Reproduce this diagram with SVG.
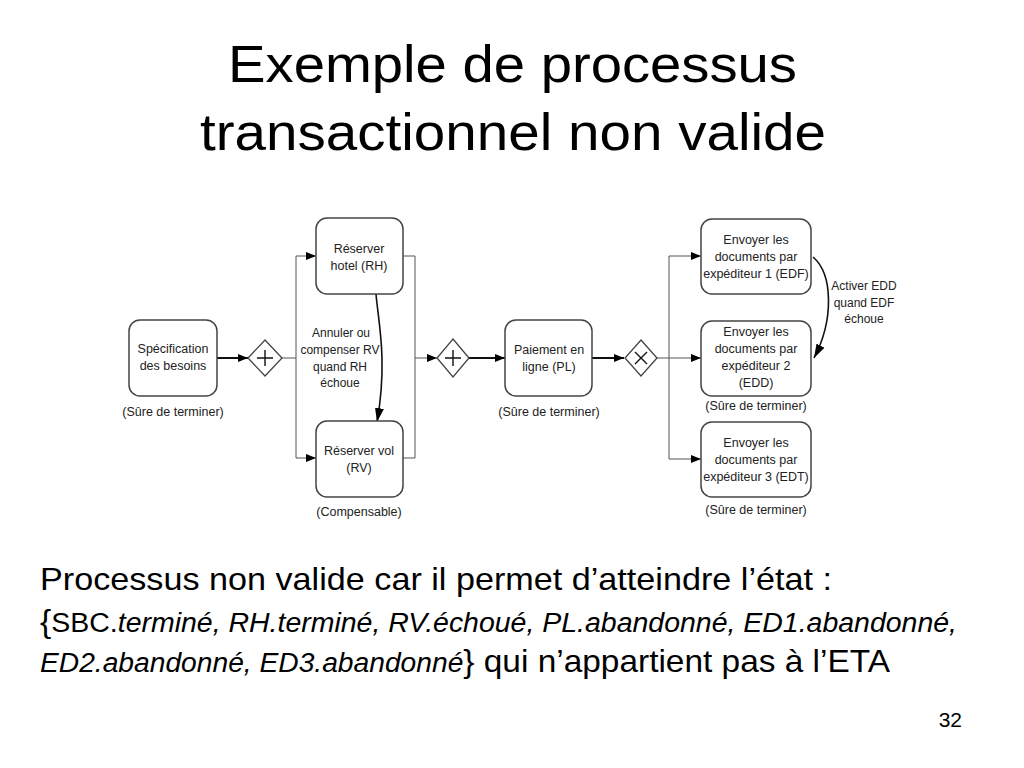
<svg xmlns="http://www.w3.org/2000/svg" width="1024" height="768" viewBox="0 0 1024 768">
<style>
.title{font-family:"Liberation Sans",Arial,sans-serif;font-size:52px;fill:#000}
.body{font-family:"Liberation Sans",Arial,sans-serif;fill:#000}
.it{font-style:italic}
.node{fill:#fff;stroke:#444;stroke-width:1.5}
.gw{fill:#fff;stroke:#444;stroke-width:1.3}
.sym{stroke:#111;stroke-width:1.4;fill:none}
.lbl{font-family:"Liberation Sans",Arial,sans-serif;font-size:12.5px;fill:#222;text-anchor:middle}
.note{font-family:"Liberation Sans",Arial,sans-serif;font-size:12px;fill:#222;text-anchor:middle}
.thick{stroke:#111;stroke-width:2;fill:none}
.thin{stroke:#555;stroke-width:1;fill:none}
.curve{stroke:#111;stroke-width:1.6;fill:none}
</style>
<defs>
<marker id="ah" viewBox="0 0 10 8" refX="10" refY="4" markerWidth="10" markerHeight="8" markerUnits="userSpaceOnUse" orient="auto"><path d="M0,0 L10,4 L0,8 z" fill="#000"/></marker>
<marker id="ah2" viewBox="0 0 14 9" refX="14" refY="4.5" markerWidth="14" markerHeight="9" markerUnits="userSpaceOnUse" orient="auto"><path d="M0,0 L14,4.5 L0,9 z" fill="#000"/></marker>
</defs>
<rect width="1024" height="768" fill="#fff"/>

<g id="title">
<text class="title" x="228" y="82" textLength="569" lengthAdjust="spacingAndGlyphs">Exemple de processus</text>
<text class="title" x="200" y="150" textLength="626" lengthAdjust="spacingAndGlyphs">transactionnel non valide</text>
</g>

<g id="connectors">
<line class="thick" x1="217" y1="358" x2="248" y2="358" marker-end="url(#ah)"/>
<line class="thin" x1="282" y1="358" x2="296" y2="358"/>
<line class="thin" x1="296" y1="256" x2="296" y2="458"/>
<line class="thin" x1="296" y1="256" x2="316" y2="256" marker-end="url(#ah)"/>
<line class="thin" x1="296" y1="458" x2="316" y2="458" marker-end="url(#ah)"/>
<line class="thin" x1="403" y1="256" x2="415" y2="256"/>
<line class="thin" x1="403" y1="458" x2="415" y2="458"/>
<line class="thin" x1="415" y1="256" x2="415" y2="458"/>
<line class="thin" x1="415" y1="358" x2="437" y2="358" marker-end="url(#ah)"/>
<line class="thick" x1="469" y1="358" x2="505" y2="358" marker-end="url(#ah)"/>
<line class="thick" x1="592" y1="358" x2="624" y2="358" marker-end="url(#ah)"/>
<line class="thin" x1="657" y1="358" x2="669" y2="358"/>
<line class="thin" x1="669" y1="256" x2="669" y2="459"/>
<line class="thin" x1="669" y1="256" x2="701" y2="256" marker-end="url(#ah)"/>
<line class="thin" x1="669" y1="358" x2="701" y2="358" marker-end="url(#ah)"/>
<line class="thin" x1="669" y1="459" x2="701" y2="459" marker-end="url(#ah)"/>
<path class="curve" d="M376,294 C378,320 388,360 377,422" marker-end="url(#ah2)"/>
<path class="curve" d="M813,257 C833,274 834,320 814,358" marker-end="url(#ah2)"/>
</g>

<g id="spec">
<rect class="node" x="129" y="320" width="88" height="76" rx="11"/>
<text class="lbl" x="173" y="353">Spécification</text>
<text class="lbl" x="173" y="370">des besoins</text>
<text class="lbl" x="173" y="416">(Sûre de terminer)</text>
</g>

<g id="gw1">
<path class="gw" d="M265,340 L282,358 L265,376 L248,358 Z"/>
<path class="sym" d="M265,350 V366 M257,358 H273"/>
</g>

<g id="rh">
<rect class="node" x="316" y="218" width="87" height="76" rx="11"/>
<text class="lbl" x="359" y="253">Réserver</text>
<text class="lbl" x="359" y="270">hotel (RH)</text>
</g>

<g id="rv">
<rect class="node" x="316" y="421" width="87" height="76" rx="11"/>
<text class="lbl" x="359" y="455">Réserver vol</text>
<text class="lbl" x="359" y="472">(RV)</text>
<text class="lbl" x="359" y="516">(Compensable)</text>
</g>

<g id="label-annuler">
<text class="note" x="341" y="337">Annuler ou</text>
<text class="note" x="340" y="354">compenser RV</text>
<text class="note" x="340" y="371">quand RH</text>
<text class="note" x="340" y="387">échoue</text>
</g>

<g id="gw2">
<path class="gw" d="M453,339 L469,358 L453,377 L437,358 Z"/>
<path class="sym" d="M453,350 V366 M445,358 H461"/>
</g>

<g id="pl">
<rect class="node" x="505" y="320" width="87" height="76" rx="11"/>
<text class="lbl" x="549" y="354">Paiement en</text>
<text class="lbl" x="549" y="371">ligne (PL)</text>
<text class="lbl" x="549" y="416">(Sûre de terminer)</text>
</g>

<g id="gw3">
<path class="gw" d="M641,340 L657,358 L641,376 L625,358 Z"/>
<path class="sym" d="M635,352 L647,364 M647,352 L635,364"/>
</g>

<g id="edf">
<rect class="node" x="701" y="219" width="110" height="75" rx="11"/>
<text class="lbl" x="756" y="244">Envoyer les</text>
<text class="lbl" x="756" y="261">documents par</text>
<text class="lbl" x="756" y="278">expéditeur 1 (EDF)</text>
</g>

<g id="edd">
<rect class="node" x="701" y="321" width="110" height="75" rx="11"/>
<text class="lbl" x="756" y="336">Envoyer les</text>
<text class="lbl" x="756" y="353">documents par</text>
<text class="lbl" x="756" y="370">expéditeur 2</text>
<text class="lbl" x="756" y="387">(EDD)</text>
<text class="lbl" x="756" y="410">(Sûre de terminer)</text>
</g>

<g id="edt">
<rect class="node" x="701" y="422" width="110" height="75" rx="11"/>
<text class="lbl" x="756" y="447">Envoyer les</text>
<text class="lbl" x="756" y="464">documents par</text>
<text class="lbl" x="756" y="481">expéditeur 3 (EDT)</text>
<text class="lbl" x="756" y="514">(Sûre de terminer)</text>
</g>

<g id="label-activer">
<text class="note" x="864" y="290">Activer EDD</text>
<text class="note" x="864" y="307">quand EDF</text>
<text class="note" x="864" y="323">échoue</text>
</g>

<g id="explanation">
<text class="body" x="40" y="590" font-size="32" textLength="792" lengthAdjust="spacingAndGlyphs">Processus non valide car il permet d’atteindre l’état :</text>
<text class="body" x="40" y="632" font-size="27" textLength="917" lengthAdjust="spacingAndGlyphs"><tspan font-size="32">{</tspan>SBC.<tspan class="it">terminé, RH.terminé, RV.échoué, PL.abandonné, ED1.abandonné,</tspan></text>
<text class="body" x="40" y="672" font-size="32" textLength="850" lengthAdjust="spacingAndGlyphs"><tspan class="it" font-size="27">ED2.abandonné, ED3.abandonné</tspan>} qui n’appartient pas à l’ETA</text>
<text class="body" x="962" y="727" font-size="21" text-anchor="end">32</text>
</g>
</svg>
